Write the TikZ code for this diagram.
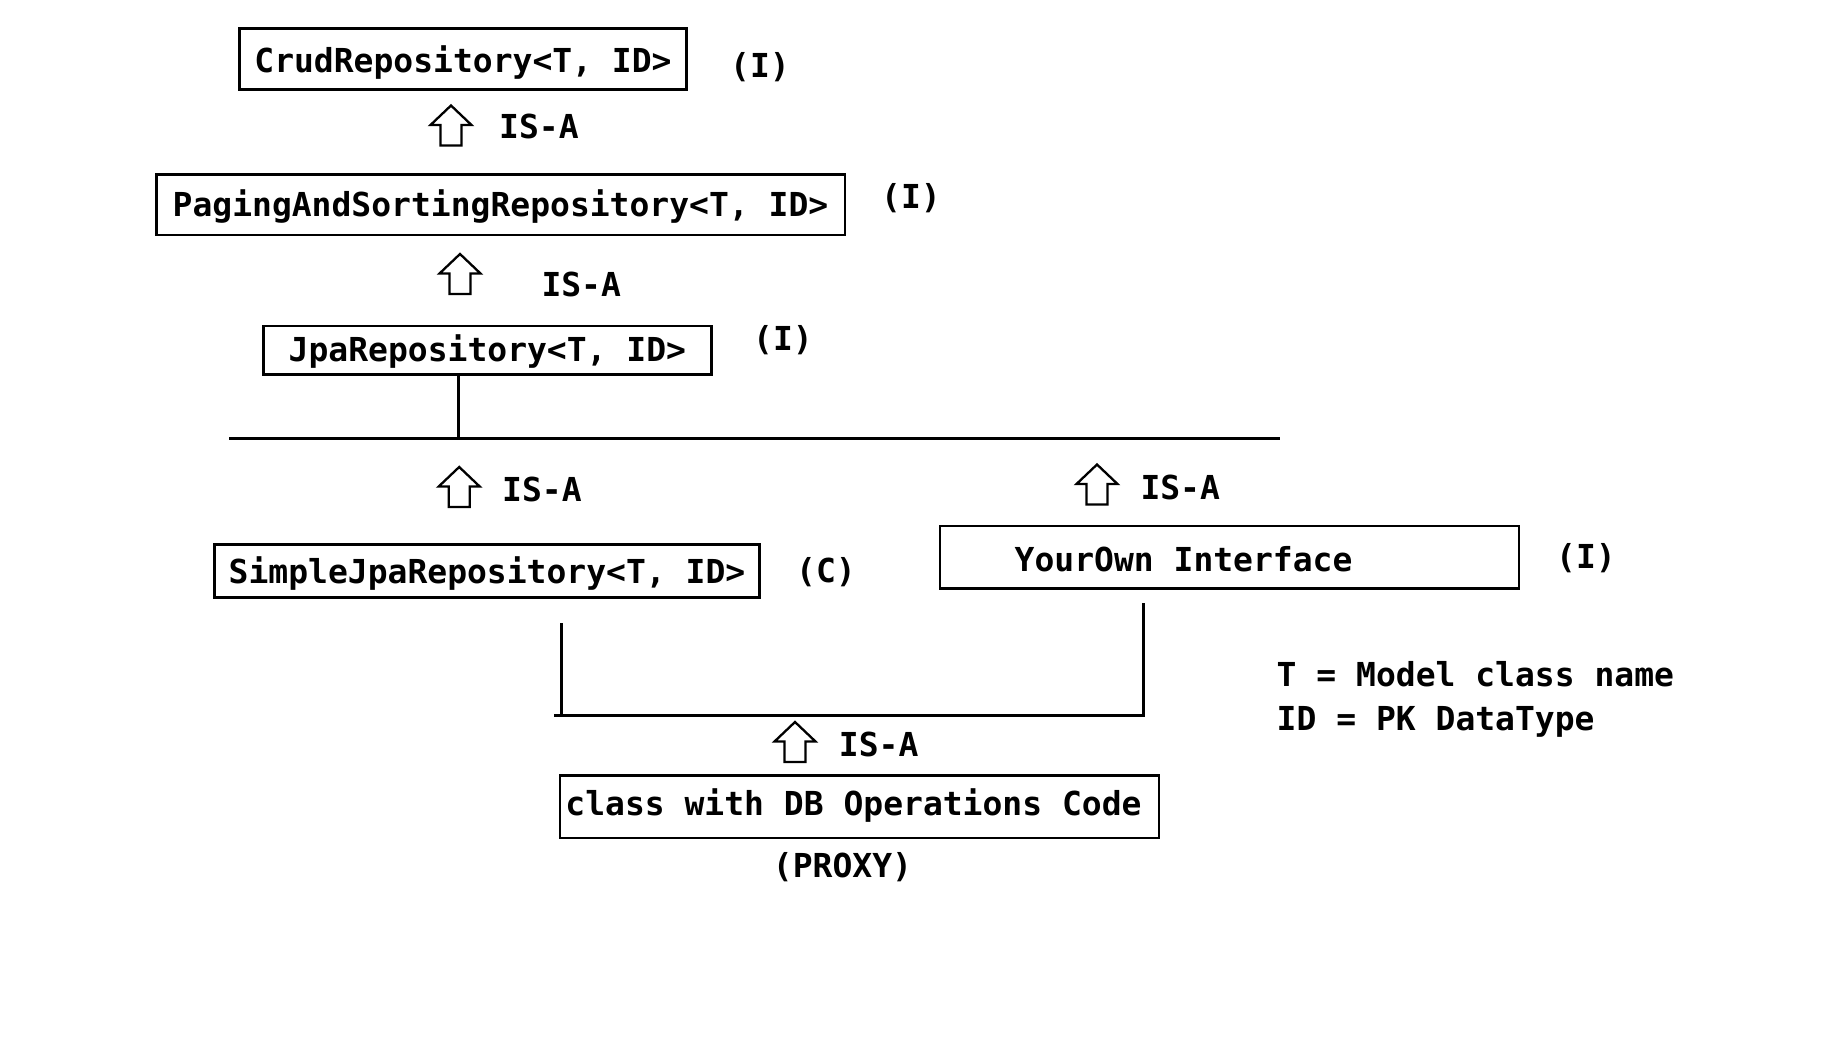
\documentclass[tikz,border=0pt]{standalone}
\usepackage{fontspec}
\setmonofont{DejaVu Sans Mono}
\frenchspacing
\begin{document}
\begin{tikzpicture}[x=1pt,y=-1pt,
  lbl/.style={font=\ttfamily\bfseries\fontsize{33}{40}\selectfont, inner sep=0pt},
  box/.style={lbl, draw, line width=2.5pt, text height=24pt, text depth=0pt},
  conn/.style={line width=2.5pt},
  isa/.pic={\draw[line width=2.3pt, line join=miter]
     (-10.5,0) -- (-10.5,-20.5) -- (-20.5,-20.5) -- (0,-40) -- (20.5,-20.5) -- (10.5,-20.5) -- (10.5,0) -- cycle;}
]
\useasboundingbox[fill=white] (0,0) rectangle (1846,1054);

% boxes
\node[box, minimum width=447pt, minimum height=61pt, text height=27pt] (crud) at (463,59) {CrudRepository<T, ID>};
\node[box, minimum width=688.5pt, minimum height=60.5pt] (paging) at (500.5,204.7) {PagingAndSortingRepository<T, ID>};
\node[box, minimum width=448pt, minimum height=48.5pt, text height=22.6pt] (jpa) at (487.4,350.4) {JpaRepository<T, ID>};
\node[box, minimum width=545pt, minimum height=53pt, text height=25pt] (simple) at (487,570.8) {SimpleJpaRepository<T, ID>};
\node[box, minimum width=579pt, minimum height=62.5pt] (own) at (1229.4,557) {};
\node[lbl, anchor=base west] (owntxt) at (1014.5,571.7) {YourOwn Interface};
\node[box, minimum width=599pt, minimum height=62.5pt, text height=18pt] (cls) at (859.5,806.7) {class with DB Operations Code\hspace*{12pt}};

% side labels
\node[lbl, anchor=base] (crudI) at (760,78) {(I)};
\node[lbl, anchor=base] (pagingI) at (911,208.5) {(I)};
\node[lbl, anchor=base] (jpaI) at (783,350) {(I)};
\node[lbl, anchor=base] (simpleC) at (826,582) {(C)};
\node[lbl, anchor=base] (ownI) at (1586,568) {(I)};
\node[lbl, anchor=base] (proxy) at (842.5,877.3) {(PROXY)};

% IS-A arrows and labels
\pic (a1) at (451,145.5) {isa};
\node[lbl, anchor=base west] (isa1) at (499,138.3) {IS-A};
\pic (a2) at (460,294) {isa};
\node[lbl, anchor=base west] (isa2) at (541.3,296) {IS-A};
\pic (a3) at (459.2,507) {isa};
\node[lbl, anchor=base west] (isa3) at (502,501) {IS-A};
\pic (a4) at (1097,504.5) {isa};
\node[lbl, anchor=base west] (isa4) at (1140.3,499.3) {IS-A};
\pic (a5) at (795,762) {isa};
\node[lbl, anchor=base west] (isa5) at (838.7,756.7) {IS-A};

% legend
\node[lbl, anchor=base west] (legT) at (1276.5,686.7) {T = Model class name};
\node[lbl, anchor=base west] (legID) at (1276.5,730) {ID = PK DataType};

% connectors
\coordinate (hlL) at (229.3,438.5);
\coordinate (hlR) at (1280,438.5);
\coordinate (jpaDrop) at (458.3,438.5);
\draw[conn] (hlL) -- (hlR);
\draw[conn] (jpaDrop |- jpa.south) -- (jpaDrop);

\coordinate (jl) at (554,715.7);
\coordinate (jr) at (1143.3,715.7);
\coordinate (lt) at (561.7,623.3);
\coordinate (rt) at (1143.3,602.7);
\draw[conn] (jl) -- (jr) -- (rt);
\draw[conn] (lt) -- (lt |- jl);
\end{tikzpicture}
\end{document}
